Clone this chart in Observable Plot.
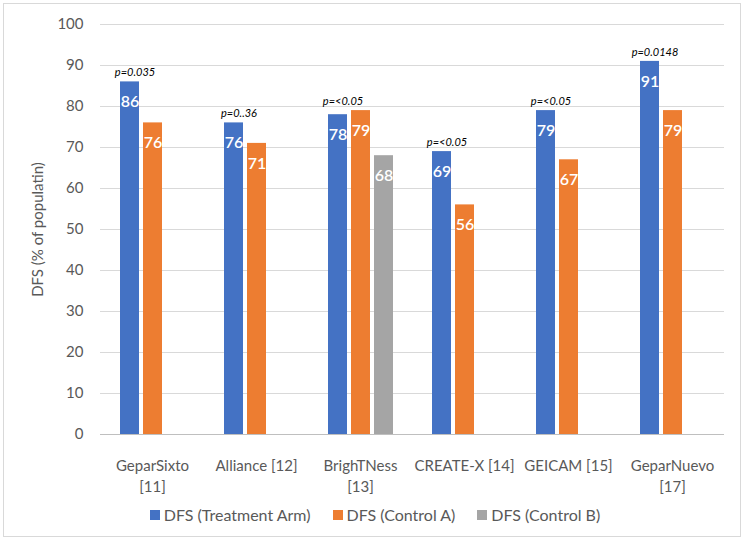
<!DOCTYPE html>
<html>
<head>
<meta charset="utf-8">
<script src="https://cdn.jsdelivr.net/npm/d3@7"></script>
<script src="https://cdn.jsdelivr.net/npm/@observablehq/plot@0.6"></script>
<style>
  html, body { margin: 0; padding: 0; background: #ffffff; }
  body { width: 750px; height: 542px; position: relative; overflow: hidden; font-family: Lato, "Open Sans", sans-serif; }
  #frame { position: absolute; left: 3px; top: 3px; width: 738px; height: 534px; border: 1px solid #d9d9d9; box-sizing: border-box; pointer-events: none; }
  #chart { position: absolute; left: 0; top: 0; }
  #legend { position: absolute; left: 0; width: 750px; top: 505px; display: flex; justify-content: center; gap: 22px; font-size: 16px; color: #595959; }
  #legend .item { display: flex; align-items: center; gap: 4px; }
  #legend .sw { width: 10px; height: 10px; display: inline-block; }
</style>
</head>
<body>
<div id="chart"></div>
<div id="legend"></div>
<div id="frame"></div>
<script>
// Data
const studies = ["GeparSixto\n[11]", "Alliance [12]", "BrighTNess\n[13]", "CREATE-X [14]", "GEICAM [15]", "GeparNuevo\n[17]"];
const series = ["DFS (Treatment Arm)", "DFS (Control A)", "DFS (Control B)"];
const treatmentArm = [86, 76, 78, 69, 79, 91];
const controlA = [76, 71, 79, 56, 67, 79];
const controlB = [null, null, 68, null, null, null];
const pValues = ["p=0.035", "p=0..36", "p=<0.05", "p=<0.05", "p=<0.05", "p=0.0148"];
const colors = ["#4472C4", "#ED7D31", "#A5A5A5"];
const yTicks = [0, 10, 20, 30, 40, 50, 60, 70, 80, 90, 100];

const seriesValues = [treatmentArm, controlA, controlB];
const data = [];
studies.forEach((s, i) => {
  seriesValues.forEach((vals, j) => {
    if (vals[i] != null) data.push({study: s, series: series[j], value: vals[i]});
  });
});
const pData = studies.map((s, i) => ({
  study: s,
  p: pValues[i],
  top: d3.max(seriesValues, vals => vals[i])
}));

const font = "Lato, 'Open Sans', sans-serif";
const grey = "#595959";

const chart = Plot.plot({
  width: 750,
  height: 500,
  marginTop: 24,
  marginBottom: 66,
  marginLeft: 98,
  marginRight: 24,
  style: {fontFamily: font, background: "transparent"},
  fx: {domain: studies, padding: 0, axis: null},
  x: {domain: series, paddingInner: 0.18, paddingOuter: 0.835, axis: null},
  y: {domain: [0, 100], axis: null},
  color: {domain: series, range: colors},
  marks: [
    Plot.gridY(yTicks.filter(t => t > 0), {stroke: "#d9d9d9", strokeOpacity: 1, strokeWidth: 1}),
    Plot.axisY({ticks: yTicks, tickSize: 0, tickPadding: 17, fontSize: 15, fill: grey,
      label: "DFS (% of populatin)", labelAnchor: "center", labelArrow: "none", labelOffset: 68}),
    Plot.axisFx({anchor: "bottom", domain: studies, tickSize: 0, tickPadding: 22, fontSize: 15, fill: grey, label: null, lineHeight: 1.4}),
    Plot.barY(data, {fx: "study", x: "series", y: "value", fill: "series"}),
    Plot.ruleY([0], {stroke: "#bfbfbf", strokeWidth: 1}),
    Plot.text(data, {fx: "study", x: "series", y: "value", text: d => String(d.value),
      fill: "white", fontSize: 16, fontWeight: 600, dy: 20}),
    Plot.text(pData, {fx: "study", x: () => series[0], y: "top", text: "p",
      fontStyle: "italic", fontSize: 11, fill: "#000", dx: 5, dy: -9})
  ]
});
document.getElementById("chart").appendChild(chart);

// Legend
const legend = document.getElementById("legend");
series.forEach((s, i) => {
  const item = document.createElement("div");
  item.className = "item";
  const sw = document.createElement("span");
  sw.className = "sw";
  sw.style.background = colors[i];
  const label = document.createElement("span");
  label.textContent = s;
  item.appendChild(sw);
  item.appendChild(label);
  legend.appendChild(item);
});
</script>
</body>
</html>
